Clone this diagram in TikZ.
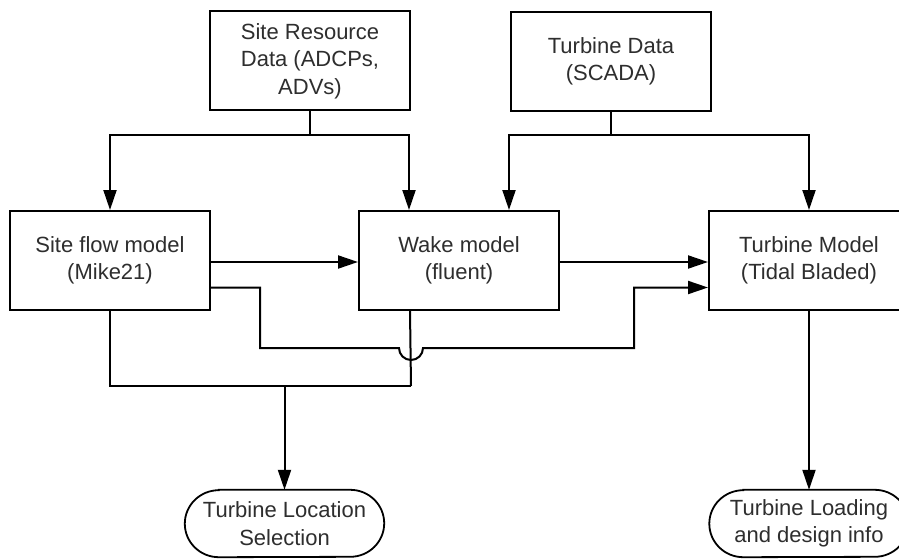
\documentclass[tikz,border=0pt]{standalone}
\usepackage{fontspec}
\setmainfont{Liberation Sans}
\usetikzlibrary{arrows.meta,calc}
\begin{document}
\begin{tikzpicture}[x=1pt,y=-1pt,
  box/.style={draw=black,line width=2pt,fill=white,minimum width=200pt,minimum height=99pt,inner sep=0pt,align=center,
    font=\fontsize{22}{27.5}\selectfont,text=black!82},
  term/.style={minimum width=199pt,minimum height=67pt,inner sep=0pt,align=center,
    font=\fontsize{22}{27.5}\selectfont,text=black!82},
  termline/.style={draw=black,line width=1.8pt},
  wire/.style={line width=2pt,draw=black},
  arr/.style={wire,-{Triangle[length=20pt,width=13pt]}}]
\useasboundingbox[fill=white] (0,0) rectangle (899,559);
\node[box] (sr) at (310,61) {Site Resource\\Data (ADCPs,\\ADVs)};
\node[box] (td) at (611,61.5) {Turbine Data\\(SCADA)};
\node[box] (sf) at (110,260.5) {Site flow model\\(Mike21)};
\node[box] (wm) at (459,260.5) {Wake model\\(fluent)};
\node[box] (tm) at (809,260.5) {Turbine Model\\(Tidal Bladed)};
\node[term] (tls) at (284.5,523.5) {Turbine Location\\Selection};
\node[term] (tld) at (809,523.5) {Turbine Loading\\and design info};
\foreach \t in {tls,tld}{
  \draw[termline] ([xshift=34pt]\t.north west) -- ([xshift=-34pt]\t.north east)
    arc[start angle=90,end angle=-90,x radius=34pt,y radius=33.5pt]
    -- ([xshift=34pt]\t.south west)
    arc[start angle=270,end angle=90,x radius=34pt,y radius=33.5pt] -- cycle;
}
\coordinate (j1) at (310,135);
\coordinate (j2) at (611,135);
\coordinate (j3) at (411,386);
\coordinate (j4) at (tls.north |- j3);
\draw[wire] (sr.south) -- (j1);
\draw[arr] (j1) -| (sf.north);
\draw[arr] (j1) -| ([xshift=51pt]wm.north west);
\draw[wire] (td.south) -- (j2);
\draw[arr] (j2) -| ([xshift=151pt]wm.north west);
\draw[arr] (j2) -| (tm.north);
\draw[arr] ([yshift=-1.5pt]sf.east) -- ([yshift=-1.5pt]wm.west);
\draw[arr] ([yshift=-1.5pt]wm.east) -- ([yshift=-1.5pt]tm.west);
\draw[arr] ([yshift=-27pt]sf.east) -| (260,348) -- (399,348) arc[start angle=180,end angle=360,radius=12pt] -- (634,348) |- ([yshift=-27pt]tm.west);
\draw[wire] (sf.south) |- (j3);
\draw[wire] ([xshift=52pt]wm.south west) -- (j3);
\draw[arr] (j4) -- (tls.north);
\draw[arr] (tm.south) -- (tld.north);
\end{tikzpicture}
\end{document}
